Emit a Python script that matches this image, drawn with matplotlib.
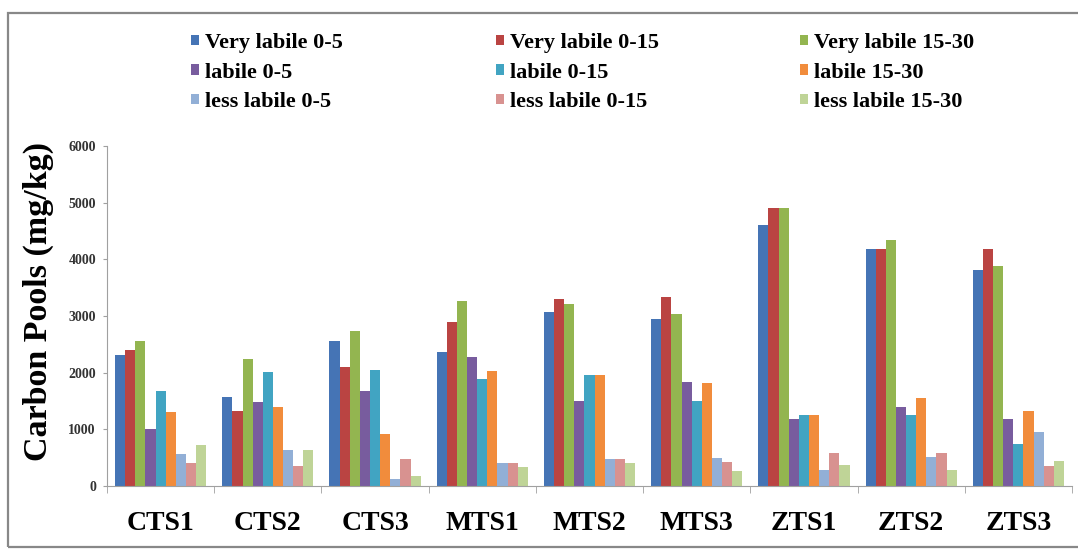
import matplotlib
matplotlib.use("Agg")
import matplotlib.pyplot as plt
import numpy as np
from matplotlib.patches import Rectangle

categories = ["CTS1", "CTS2", "CTS3", "MTS1", "MTS2", "MTS3", "ZTS1", "ZTS2", "ZTS3"]
series_names = ["Very labile 0-5", "Very labile 0-15", "Very labile 15-30",
                "labile 0-5", "labile 0-15", "labile 15-30",
                "less labile 0-5", "less labile 0-15", "less labile 15-30"]

very_labile_0_5 = [2320, 1565, 2553, 2360, 3065, 2950, 4612, 4185, 3818]
very_labile_0_15 = [2400, 1330, 2106, 2900, 3294, 3330, 4910, 4185, 4188]
very_labile_15_30 = [2553, 2241, 2729, 3270, 3206, 3035, 4910, 4335, 3888]
labile_0_5 = [1012, 1476, 1676, 2270, 1506, 1829, 1176, 1394, 1176]
labile_0_15 = [1676, 2006, 2053, 1888, 1953, 1506, 1259, 1247, 741]
labile_15_30 = [1306, 1388, 918, 2035, 1965, 1818, 1259, 1553, 1318]
less_labile_0_5 = [571, 641, 118, 406, 476, 488, 288, 512, 953]
less_labile_0_15 = [400, 347, 482, 406, 476, 418, 582, 582, 347]
less_labile_15_30 = [724, 635, 176, 329, 406, 271, 376, 276, 435]

values = [very_labile_0_5, very_labile_0_15, very_labile_15_30,
          labile_0_5, labile_0_15, labile_15_30,
          less_labile_0_5, less_labile_0_15, less_labile_15_30]

colors = ["#4574B5", "#BA4442", "#93B550", "#785C9E", "#41A4C2", "#F18C3C",
          "#92AFD6", "#D89290", "#BFD497"]

W, H = 1078, 549
fig = plt.figure(figsize=(W / 100, H / 100), dpi=100)
fig.patches.append(Rectangle((8 / W, 2 / H), 1.2, (547 - 13) / H, transform=fig.transFigure,
                             fill=False, edgecolor="#888888", linewidth=1.6))

ax = fig.add_axes([107 / W, 1 - 486 / H, 965 / W, 340 / H])
x = np.arange(len(categories))
bw = 0.0945
containers = []
for i, (vals, c) in enumerate(zip(values, colors)):
    bc = ax.bar(x + (i - 4) * bw, vals, width=bw, color=c, label=series_names[i], linewidth=0)
    containers.append(bc)

ax.set_xlim(-0.5, len(categories) - 0.5)
ax.set_ylim(0, 6000)
ax.set_yticks(np.arange(0, 6001, 1000))
ax.set_xticks(x)
ax.set_xticklabels(categories, fontfamily="Liberation Serif", fontweight="bold", fontsize=20)
ax.set_xticks(np.arange(-0.5, len(categories), 1), minor=True)
ax.tick_params(axis="x", which="major", length=0, pad=18)
ax.tick_params(axis="x", which="minor", length=5, color="#a0a0a0", direction="out")
ax.tick_params(axis="y", length=3, color="#a0a0a0", direction="out", pad=5)
for lab in ax.get_yticklabels():
    lab.set_fontfamily("Liberation Serif")
    lab.set_fontweight("bold")
    lab.set_fontsize(10)
    lab.set_color("#333333")
for s in ["top", "right"]:
    ax.spines[s].set_visible(False)
for s in ["left", "bottom"]:
    ax.spines[s].set_color("#a0a0a0")
ax.set_ylabel("Carbon Pools (mg/kg)", fontfamily="Liberation Serif", fontweight="bold",
              fontsize=24.5)
ax.yaxis.set_label_coords(-0.055, 0.544)

col_x = [191, 496, 800]
for col in range(3):
    idx = [col, col + 3, col + 6]
    fig.legend([containers[k] for k in idx], [series_names[k] for k in idx],
               loc="upper left", bbox_to_anchor=(col_x[col] / W, 1 - 33 / H),
               frameon=False, ncol=1,
               prop={"family": "Liberation Serif", "weight": "bold", "size": 16},
               handlelength=0.36, handleheight=0.36, handletextpad=0.27,
               labelspacing=0.43, borderpad=0, borderaxespad=0)

fig.savefig("out.png", dpi=100)
